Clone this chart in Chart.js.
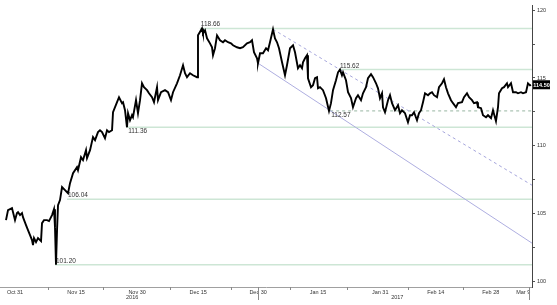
<!DOCTYPE html>
<html>
<head>
<meta charset="utf-8">
<script src="https://cdn.jsdelivr.net/npm/chart.js@4.4.0/dist/chart.umd.min.js"></script>
<style>
  html, body { margin: 0; padding: 0; background: #fff; }
  #wrap { width: 557px; height: 305px; }
</style>
</head>
<body>
<div id="wrap"><canvas id="fxChart" width="557" height="305"></canvas></div>
<script>
// x = trading days counted from Oct 31 2016
const days = [
  -1.64, -1.27, -0.55, -0.36, 0, 0.36, 0.55, 0.91, 1.27, 1.45, 2.0, 2.36, 2.73, 3.09, 3.27, 3.45, 3.82, 4.18, 4.73, 4.91,
  5.27, 5.82, 6.18, 6.73, 7.09, 7.27, 7.45, 7.64, 7.82, 8.18, 8.55, 9.09, 9.64, 10.0, 10.55, 11.27, 11.45, 12.0, 12.36, 12.91,
  13.09, 13.64, 14.18, 14.55, 15.09, 15.45, 15.82, 16.36, 16.73, 17.09, 17.64, 17.82, 18.55, 18.91, 19.45, 19.64, 20.0, 20.36, 20.55, 20.91,
  21.27, 21.45, 22.0, 22.36, 22.73, 23.09, 23.45, 24.0, 24.36, 24.91, 25.27, 25.82, 26.0, 26.55, 27.27, 27.82, 28.36, 28.73, 29.45, 30.0,
  30.55, 30.91, 31.27, 31.82, 32.36, 33.09, 33.27, 34.0, 34.18, 34.55, 34.91, 35.45, 35.82, 36.0, 36.36, 36.73, 37.27, 37.82, 38.18, 38.73,
  39.27, 39.64, 40.36, 40.91, 41.45, 42.18, 42.73, 43.09, 43.45, 44.0, 44.18, 44.55, 45.09, 45.64, 46.0, 46.36, 46.91, 47.27, 47.64, 48.0,
  48.55, 49.09, 49.45, 50.0, 50.55, 50.91, 51.45, 51.82, 52.18, 52.36, 52.73, 53.09, 53.27, 53.82, 54.18, 54.55, 54.91, 55.09, 55.45, 56.0,
  56.55, 57.09, 57.45, 57.82, 58.36, 58.73, 59.09, 59.45, 59.64, 60.18, 60.55, 61.09, 61.45, 62.0, 62.36, 62.91, 63.27, 63.82, 64.18, 64.73,
  65.09, 65.64, 66.0, 66.36, 66.73, 66.91, 67.27, 67.82, 68.18, 68.55, 69.09, 69.64, 70.0, 70.36, 70.91, 71.45, 71.82, 72.18, 72.55, 73.09,
  73.45, 73.82, 74.18, 74.55, 75.09, 75.45, 75.82, 76.18, 76.73, 77.09, 77.64, 78.0, 78.36, 78.73, 79.27, 79.64, 80.18, 80.55, 81.27, 81.64,
  82.18, 82.55, 83.09, 83.45, 84.0, 84.18, 84.73, 85.09, 85.64, 86.0, 86.55, 86.91, 87.45, 87.82, 88.0, 88.55, 88.91, 89.45, 89.64, 90.18,
  90.55, 91.09, 91.45, 92.0, 92.36, 92.91, 93.27, 93.64, 93.82
];
const prices = [
  104.50, 105.24, 105.39, 105.09, 104.50, 105.02, 105.09, 104.87, 105.02, 104.72, 104.13, 103.76, 103.39, 103.03, 102.66, 103.17, 102.88, 103.17, 102.95, 104.28,
  104.50, 104.50, 104.43, 104.87, 105.31, 103.98, 101.20, 103.76, 105.61, 105.98, 106.94, 106.72, 106.49, 107.23, 107.97, 108.41, 108.19, 109.15, 108.93, 109.67,
  109.08, 109.67, 110.63, 110.41, 111.00, 111.14, 111.00, 110.55, 111.14, 111.00, 111.14, 112.47, 113.21, 113.58, 113.14, 113.21, 112.62, 111.36, 112.40, 111.88,
  112.25, 112.10, 113.36, 112.40, 113.36, 114.61, 114.32, 114.10, 113.87, 113.58, 113.21, 114.32, 113.36, 113.95, 114.10, 113.95, 113.36, 113.95, 114.61, 115.20,
  115.94, 115.35, 115.06, 115.35, 115.20, 115.06, 118.15, 118.66, 118.30, 118.52, 117.93, 117.56, 117.27, 116.68, 117.20, 118.15, 117.79, 117.64, 117.79, 117.64,
  117.56, 117.42, 117.27, 117.20, 117.27, 117.56, 117.64, 117.79, 116.90, 116.46, 116.09, 116.83, 116.83, 117.20, 117.05, 117.64, 118.60, 117.93, 117.64, 117.20,
  116.16, 115.20, 115.94, 117.20, 117.42, 116.90, 115.72, 115.94, 115.72, 116.16, 116.46, 116.68, 114.98, 114.32, 114.46, 114.98, 115.06, 114.24, 114.32, 114.10,
  113.51, 112.57, 113.14, 114.10, 114.83, 115.42, 115.62, 115.20, 115.42, 114.83, 113.95, 113.51, 112.84, 113.51, 113.73, 113.36, 113.87, 114.32, 114.98, 115.28,
  115.06, 114.61, 114.24, 113.51, 113.87, 112.84, 112.47, 113.36, 113.73, 113.14, 112.62, 112.99, 112.40, 112.62, 112.40, 111.73, 112.25, 112.25, 112.47, 111.88,
  112.40, 112.62, 113.21, 113.87, 113.73, 113.87, 113.95, 113.73, 113.58, 114.32, 114.61, 114.91, 114.32, 113.87, 113.36, 113.14, 112.84, 113.14, 113.21, 113.58,
  113.87, 113.58, 113.36, 113.14, 113.21, 112.84, 112.77, 112.25, 112.10, 112.25, 112.03, 112.62, 111.81, 112.84, 113.87, 114.24, 114.32, 114.61, 114.32, 114.61,
  113.95, 113.95, 113.87, 113.95, 113.87, 113.95, 114.61, 114.46, 114.50
];

const tickDays = [0, 11.1, 22.2, 33.3, 44.2, 55.1, 66.4, 76.5, 86.5, 92.4];
const tickLabels = ["Oct 31", "Nov 15", "Nov 30", "Dec 15", "Dec 30", "Jan 15", "Jan 31", "Feb 14", "Feb 28", "Mar 9"];
const minorTickDays = [6.0, 16.0, 28.2, 39.3, 50.0, 60.4, 71.5, 81.5];
const separatorDays = [44.2, 93.45];
const yearLabels = ["2016", "2017"];
const yearDays = [21.3, 69.5];

const yTicks = [100, 102.5, 105, 107.5, 110, 112.5, 115, 117.5, 120];

// support / resistance levels
const levelValues = [118.66, 115.62, 112.57, 111.36, 106.04, 101.20];
const levelStartDays = [33.6, 58.9, 57.3, 20.4, 9.45, 7.27];
const levelDashed = [false, false, true, false, false, false];
const levelLabelAbove = [true, true, false, false, true, true];

// trend lines
const trendSolidDays = [44.2, 94];
const trendSolidValues = [116.09, 102.80];
const trendDashedDays = [46.9, 94];
const trendDashedValues = [118.60, 107.08];

const lastPrice = 114.50;
const xMin = -2.73, xMax = 94;

const FONT = "'Liberation Sans', Arial, sans-serif";

function pts(xs, ys) {
  return xs.map((x, i) => ({ x: x, y: ys[i] }));
}

const datasets = [{
  label: "USDJPY",
  data: pts(days, prices),
  borderColor: "#000",
  borderWidth: 1.9,
  pointRadius: 0,
  tension: 0,
  order: 0
}];

levelValues.forEach((v, i) => {
  datasets.push({
    data: [{ x: levelStartDays[i], y: v }, { x: xMax, y: v }],
    borderColor: levelDashed[i] ? "#a9c2b1" : "#cde6d5",
    borderWidth: levelDashed[i] ? 1.2 : 1.5,
    borderDash: levelDashed[i] ? [3, 3] : [],
    pointRadius: 0,
    order: 2
  });
});

datasets.push({
  data: pts(trendSolidDays, trendSolidValues),
  borderColor: "#aeaee0",
  borderWidth: 1,
  pointRadius: 0,
  order: 1
});
datasets.push({
  data: pts(trendDashedDays, trendDashedValues),
  borderColor: "#a6a6dc",
  borderWidth: 1,
  borderDash: [3, 3],
  pointRadius: 0,
  order: 1
});

const extrasPlugin = {
  id: "extras",
  afterDraw(chart) {
    const c = chart.ctx;
    const xs = chart.scales.x, ys = chart.scales.y;
    const area = chart.chartArea;
    c.save();

    // level value labels
    c.font = "6.5px " + FONT;
    c.fillStyle = "#333";
    c.textAlign = "left";
    levelValues.forEach((v, i) => {
      const px = xs.getPixelForValue(levelStartDays[i]);
      const py = ys.getPixelForValue(v);
      c.textBaseline = levelLabelAbove[i] ? "bottom" : "top";
      c.fillText(v.toFixed(2), px + 1, levelLabelAbove[i] ? py - 0.5 : py + 1);
    });

    // minor ticks on the time axis
    c.strokeStyle = "#8a8a8a";
    c.lineWidth = 1;
    minorTickDays.forEach(d => {
      const px = Math.round(xs.getPixelForValue(d)) + 0.5;
      c.beginPath();
      c.moveTo(px, area.bottom);
      c.lineTo(px, area.bottom + 3);
      c.stroke();
    });
    separatorDays.forEach(d => {
      const px = Math.round(xs.getPixelForValue(d)) + 0.5;
      c.beginPath();
      c.moveTo(px, area.bottom);
      c.lineTo(px, area.bottom + 13);
      c.stroke();
    });

    // year labels
    c.font = "5.5px " + FONT;
    c.fillStyle = "#333";
    c.textAlign = "center";
    c.textBaseline = "middle";
    yearLabels.forEach((t, i) => {
      c.fillText(t, xs.getPixelForValue(yearDays[i]), area.bottom + 10);
    });

    // last price box
    const py = ys.getPixelForValue(lastPrice);
    c.fillStyle = "#000";
    c.fillRect(area.right + 1, py - 4.5, 17, 9);
    c.fillStyle = "#fff";
    c.font = "bold 5.5px " + FONT;
    c.textAlign = "center";
    c.fillText(lastPrice.toFixed(2), area.right + 9.5, py + 0.5);
    c.restore();
  }
};

const ctx = document.getElementById("fxChart").getContext("2d");
new Chart(ctx, {
  type: "line",
  data: { datasets: datasets },
  options: {
    responsive: false,
    animation: false,
    layout: { padding: { top: 5, left: 0, right: 0, bottom: 0 } },
    plugins: { legend: { display: false }, tooltip: { enabled: false } },
    scales: {
      x: {
        type: "linear",
        min: xMin,
        max: xMax,
        afterBuildTicks: axis => { axis.ticks = tickDays.map(v => ({ value: v })); },
        afterFit: axis => { axis.height = 18; },
        ticks: {
          autoSkip: false,
          maxRotation: 0,
          padding: -6,
          color: "#333",
          font: { family: FONT, size: 5.5 },
          callback: (v, i) => tickLabels[i]
        },
        grid: { display: false },
        border: { display: true, color: "#a0a0a0", width: 1 }
      },
      y: {
        position: "right",
        min: 99.56,
        max: 120.37,
        afterBuildTicks: axis => { axis.ticks = yTicks.map(v => ({ value: v })); },
        afterFit: axis => { axis.width = 25; },
        ticks: {
          padding: 2,
          color: "#333",
          font: { family: FONT, size: 5.5 },
          callback: v => (v % 5 === 0 ? String(v) : "")
        },
        grid: { drawOnChartArea: false, drawTicks: true, tickLength: 3, color: "#555" },
        border: { display: true, color: "#444", width: 1 }
      }
    }
  },
  plugins: [extrasPlugin]
});
</script>
</body>
</html>
